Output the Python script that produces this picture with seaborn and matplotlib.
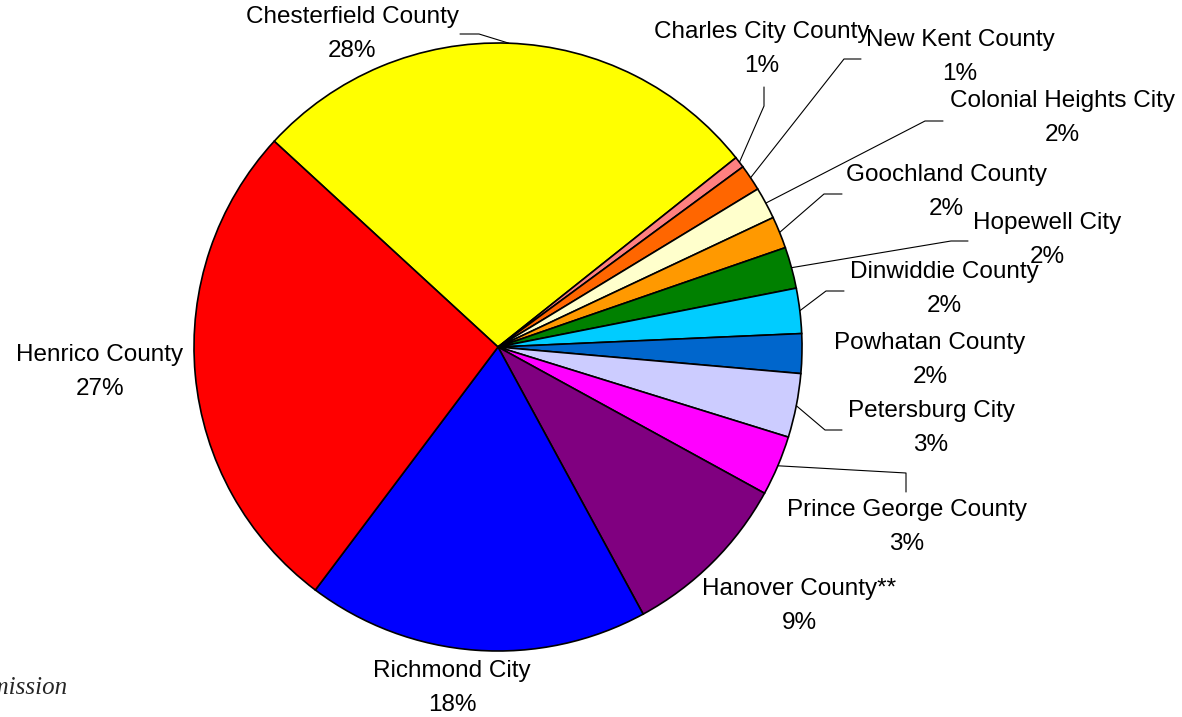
"""Share of regional total by locality - pie chart with Excel-style leader lines."""

import math
import matplotlib
matplotlib.use("Agg")
import matplotlib.pyplot as plt
import seaborn as sns

# Localities in clockwise order, starting from Chesterfield
names = ["Chesterfield County", "Charles City County", "New Kent County",
         "Colonial Heights City", "Goochland County", "Hopewell City",
         "Dinwiddie County", "Powhatan County", "Petersburg City",
         "Prince George County", "Hanover County**", "Richmond City",
         "Henrico County"]
shares = [27.5, 0.6, 1.4, 1.7, 1.7, 2.2, 2.4, 2.1, 3.4, 3.2, 9.1, 18.2, 26.6]
colors = ["#FFFF00", "#FF8080", "#FF6600", "#FFFFCC", "#FF9900", "#008000",
          "#00CCFF", "#0066CC", "#CCCCFF", "#FF00FF", "#800080", "#0000FF",
          "#FF0000"]

W, H = 1182, 717
CX, CY, R = 498, 347, 304   # pie centre / radius in pixels (y from top)

# label block centres (pixels, y from top) and leader elbows
label_pos = {
    "Chesterfield County": (352, 34),
    "Charles City County": (762, 49),
    "New Kent County": (960, 57),
    "Colonial Heights City": (1062, 118),
    "Goochland County": (946, 192),
    "Hopewell City": (1047, 240),
    "Dinwiddie County": (944, 289),
    "Powhatan County": (930, 360),
    "Petersburg City": (931, 428),
    "Prince George County": (907, 527),
    "Hanover County**": (799, 606),
    "Richmond City": (452, 688),
    "Henrico County": (100, 372),
}
leaders = {
    "Chesterfield County": [(479, 34), (460, 34)],
    "Charles City County": [(764, 106), (764, 87)],
    "New Kent County": [(844, 59), (861, 59)],
    "Colonial Heights City": [(925, 121), (943, 121)],
    "Goochland County": [(824, 194), (842, 194)],
    "Hopewell City": [(951, 241), (968, 241)],
    "Dinwiddie County": [(826, 291), (844, 291)],
    "Petersburg City": [(825, 430), (842, 430)],
    "Prince George County": [(906, 473), (906, 492)],
}

sns.set_theme(style="white")
plt.rcParams["font.family"] = ["Liberation Sans", "DejaVu Sans"]

fig = plt.figure(figsize=(W / 100, H / 100), dpi=100)
ax = fig.add_axes([0, 0, 1, 1])

wedges, _ = ax.pie(shares, colors=colors, startangle=137.4, counterclock=False,
                   center=(CX, H - CY), radius=R,
                   wedgeprops=dict(edgecolor="black", linewidth=1.2))

for w, name, val in zip(wedges, names, shares):
    lx, ly = label_pos[name]
    pct = f"{math.floor(val + 0.5)}%"
    ax.text(lx, H - ly, f"{name}\n{pct}", ha="center", va="center",
            fontsize=17.5, linespacing=1.7, color="black")
    if name in leaders:
        mid = math.radians((w.theta1 + w.theta2) / 2)
        x0 = CX + R * math.cos(mid)
        y0 = (H - CY) + R * math.sin(mid)
        xs = [x0] + [p[0] for p in leaders[name]]
        ys = [y0] + [H - p[1] for p in leaders[name]]
        ax.plot(xs, ys, color="black", lw=0.8)

# source note, clipped at the left edge as in the original
ax.text(67, H - 688, "Source: Virginia Employment Commission", ha="right",
        va="center", fontsize=18, style="italic",
        family=["Liberation Serif", "DejaVu Serif"])

ax.set_xlim(0, W)
ax.set_ylim(0, H)
ax.set_aspect("equal")
ax.axis("off")

fig.savefig("out.png", dpi=100)
